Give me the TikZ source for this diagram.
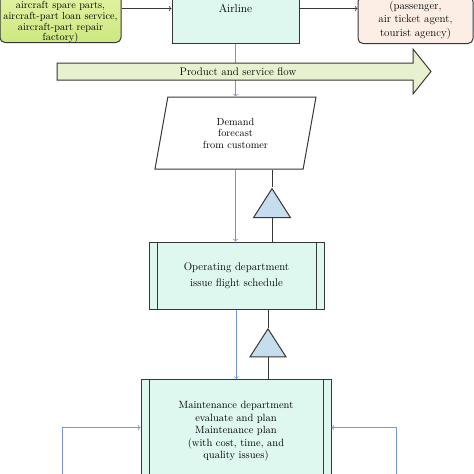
\documentclass[tikz,border=0pt]{standalone}
\usetikzlibrary{shapes.geometric}
\definecolor{aquad}{RGB}{222,247,239}
\definecolor{limetop}{RGB}{236,247,178}
\definecolor{limebot}{RGB}{204,232,128}
\definecolor{pinkd}{RGB}{252,238,229}
\definecolor{flowd}{RGB}{232,241,207}
\definecolor{trid}{RGB}{198,221,238}
\definecolor{linkd}{RGB}{118,150,212}
\definecolor{edged}{RGB}{55,55,55}

\begin{document}
\begin{tikzpicture}[x=1pt, y=-1pt,
    every node/.style={align=center, inner sep=0pt, font=\fontsize{10}{12}\selectfont},
    unit/.style={draw=edged, line width=1pt, fill=aquad},
    process/.style={unit, path picture={
        \draw[edged, line width=1pt] ([xshift=8pt]path picture bounding box.north west) -- ([xshift=8pt]path picture bounding box.south west);
        \draw[edged, line width=1pt] ([xshift=-8pt]path picture bounding box.north east) -- ([xshift=-8pt]path picture bounding box.south east);}},
    control/.style={draw=edged, line width=1pt, fill=trid, isosceles triangle, isosceles triangle stretches,
        shape border rotate=90, minimum width=37pt, minimum height=29pt},
    info/.style={draw=linkd, line width=0.8pt, ->},
    material/.style={draw=edged, line width=0.8pt, ->},
    ctrlline/.style={draw=edged, line width=1pt}]
                    \clip (0,0) rectangle (474,474);
                    % suppliers, airline, customers
                    \node (sup) [unit, top color=limetop, bottom color=limebot, rounded corners=5pt, minimum width=121pt,
                        minimum height=70pt, anchor=south,
                        label={[yshift=-15pt, font=\fontsize{10.3}{10.7}\selectfont]center:{aircraft spare parts,\\aircraft-part loan service,\\aircraft-part repair\\factory)}}]
                        at (60.5,43) {};
                    \node (air) [unit, minimum width=127pt, minimum height=70pt, anchor=south, font=\fontsize{11.5}{13}\selectfont]
                        at (235.5,44) {Airline};
                    \node (cust) [unit, fill=pinkd, rounded corners=5pt, minimum width=115pt, minimum height=47pt, anchor=south,
                        font=\fontsize{11}{13.5}\selectfont] at (415.5,44)
                        {(passenger,\\air ticket agent,\\tourist agency)};
                    \draw[material] (air.west -| sup.east) -- (air.west);
                    \draw[material] (air.east) -- (air.east -| cust.west);
                    % forecast
                    \node (fc) [draw=edged, line width=1pt, fill=white, trapezium, trapezium left angle=67, trapezium right angle=113,
                        trapezium stretches body, minimum width=161pt, minimum height=72pt, font=\fontsize{10.3}{11.5}\selectfont]
                        at (235.5,133) {Demand\\forecast\\from customer};
                    \draw[info] (air.south) -- (fc.north);
                    % product flow
                    \draw[draw=edged, line width=1pt, fill=flowd] (57,63) -- (413,63) -- (413,49) -- (431,71.5)
                        -- (413,94) -- (413,80) -- (57,80) -- cycle;
                    \node (flow) [font=\fontsize{11}{12}\selectfont] at (238,71.5) {Product and service flow};
                    % operating
                    \node (op) [process, minimum width=175pt, minimum height=67pt, font=\fontsize{11}{16}\selectfont] at (236.5,275.5)
                        {Operating department\\issue flight schedule};
                    \node (t1) [control] at (272,207.5) {};
                    \draw[info] (fc.south) -- (fc.south |- op.north);
                    \draw[ctrlline] (t1 |- fc.south) -- (t1.apex);
                    \draw[ctrlline] (t1.lower side) -- (t1 |- op.north);
                    % maintenance
                    \node (mt) [process, minimum width=190pt, minimum height=104pt, anchor=north, font=\fontsize{10.5}{12.5}\selectfont] at (236,379)
                        {Maintenance department\\evaluate and plan\\Maintenance plan\\(with cost, time, and\\quality issues)};
                    \node (t2) [control, minimum width=36pt, minimum height=28pt] at (268,347) {};
                    \draw[info] (op.south) -- (op.south |- mt.north);
                    \draw[ctrlline] (t2 |- op.south) -- (t2.apex);
                    \draw[ctrlline] (t2.lower side) -- (t2 |- mt.north);
                    \coordinate (lfeed) at (62,480);
                    \coordinate (rfeed) at (396,480);
                    \draw[info] (lfeed) |- ([yshift=4pt]mt.west);
                    \draw[info] (rfeed) |- ([yshift=4pt]mt.east);
\end{tikzpicture}
\end{document}
